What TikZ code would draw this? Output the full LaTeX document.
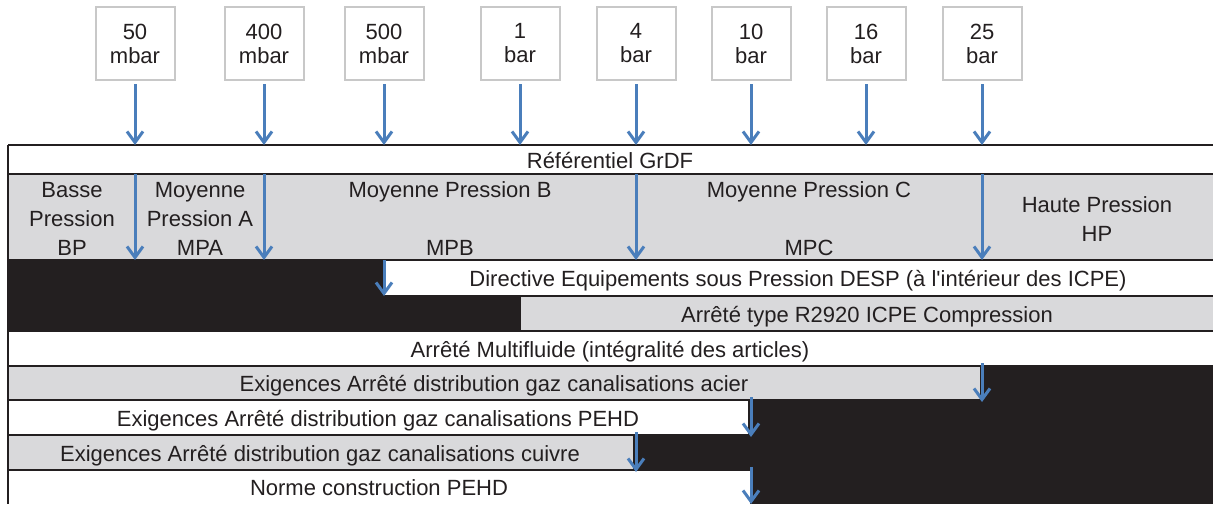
\documentclass[tikz,border=0pt]{standalone}
\usepackage{fontspec}
\setmainfont{Liberation Sans}
\usetikzlibrary{arrows.meta}

\definecolor{inkblack}{HTML}{231F20}
\definecolor{cellgray}{HTML}{D9D9DB}
\definecolor{boxgray}{HTML}{C8C8C8}
\definecolor{arrowblue}{HTML}{4A7EBB}

\tikzset{
  pbox/.style={draw=boxgray, line width=1pt, fill=white, minimum width=39.5pt, minimum height=36.5pt,
    inner sep=0pt, align=center, text=inkblack, font=\fontsize{11}{12}\selectfont},
  flow/.style={draw=arrowblue, line width=1.5pt, -{Straight Barb[length=5.5pt,width=8pt]}},
  cell/.style={font=\fontsize{11}{14.5}\selectfont, text=inkblack, align=center, inner sep=0pt},
  rowtext/.style={cell, text height=8.5pt, text depth=0pt},
  rowline/.style={draw=inkblack, line width=1pt},
}

\begin{document}
\begin{tikzpicture}[x=0.5pt, y=-0.5pt]
\useasboundingbox (0,0) rectangle (1213,504);

% pressure levels
\node[pbox] (p50) at (135,43.5) {50\\mbar};
\node[pbox] (p400) at (264,43.5) {400\\mbar};
\node[pbox] (p500) at (384,43.5) {500\\mbar};
\node[pbox] (p1) at (520,43.5) {1\\bar};
\node[pbox] (p4) at (636,43.5) {4\\bar};
\node[pbox] (p10) at (751,43.5) {10\\bar};
\node[pbox] (p16) at (866,43.5) {16\\bar};
\node[pbox] (p25) at (982,43.5) {25\\bar};

% row limits
\coordinate (y0) at (0,145);
\coordinate (y1) at (0,174);
\coordinate (y2) at (0,260);
\coordinate (y3) at (0,296);
\coordinate (y4) at (0,331);
\coordinate (y5) at (0,366);
\coordinate (y6) at (0,400);
\coordinate (y7) at (0,435);
\coordinate (y8) at (0,470);
\coordinate (y9) at (0,504);

% cells
\fill[cellgray] (8,174) rectangle (1213,260);
\fill[inkblack] (8,260) rectangle (384,296);
\fill[inkblack] (8,296) rectangle (521,331);
\fill[cellgray] (521,296) rectangle (1213,331);
\fill[cellgray] (8,366) rectangle (980,400);
\fill[inkblack] (980,366) rectangle (1213,400);
\fill[inkblack] (748,400) rectangle (1213,435);
\fill[cellgray] (8,435) rectangle (633,470);
\fill[inkblack] (633,435) rectangle (1213,470);
\fill[inkblack] (750,470) rectangle (1213,504);

\foreach \y in {145,174,260,296,331,366,400,435,470}
  \draw[rowline] (8,\y) -- (1213,\y);
\draw[rowline] (8,145) -- (8,504);

% texts
\node[rowtext] (grdf) at (610,159.5) {Référentiel GrDF};
\node[cell] (bp) at (72,219) {Basse\\Pression\\BP};
\node[cell] (mpa) at (200,219) {Moyenne\\Pression A\\MPA};
\node[cell] (mpb) at (450,219) {Moyenne Pression B\\\mbox{}\\MPB};
\node[cell] (mpc) at (809,219) {Moyenne Pression C\\\mbox{}\\MPC};
\node[cell] (hp) at (1097,219) {Haute Pression\\HP};
\node[rowtext] (desp) at (798,278) {Directive Equipements sous Pression DESP (à l\textquotesingle intérieur des ICPE)};
\node[rowtext] (icpe) at (867,313.5) {Arrêté type R2920 ICPE Compression};
\node[rowtext] (multi) at (610,348.5) {Arrêté Multifluide (intégralité des articles)};
\node[rowtext] (acier) at (494,383) {Exigences Arrêté distribution gaz canalisations acier};
\node[rowtext] (pehd) at (378,417.5) {Exigences Arrêté distribution gaz canalisations PEHD};
\node[rowtext] (cuivre) at (320,452.5) {Exigences Arrêté distribution gaz canalisations cuivre};
\node[rowtext] (norme) at (379,487) {Norme construction PEHD};

% arrows
\foreach \p in {p50,p400,p500,p1,p4,p10,p16,p25}
  \draw[flow] ([yshift=-1.5pt]\p.south) -- (\p |- y0);
\foreach \p in {p50,p400,p4,p25}
  \draw[flow] (\p |- y1) -- (\p |- y2);
\draw[flow] (p500 |- y2) -- (p500 |- y3);
\draw[flow] ([yshift=1.5pt]p25 |- y5) -- ([yshift=-1pt]p25 |- y6);
\draw[flow] ([yshift=1.5pt]p10 |- y6) -- ([yshift=-1pt]p10 |- y7);
\draw[flow] ([yshift=1.5pt]p4 |- y7) -- ([yshift=-1pt]p4 |- y8);
\draw[flow] ([yshift=1.5pt]p10 |- y8) -- (p10 |- y9);
\end{tikzpicture}
\end{document}
